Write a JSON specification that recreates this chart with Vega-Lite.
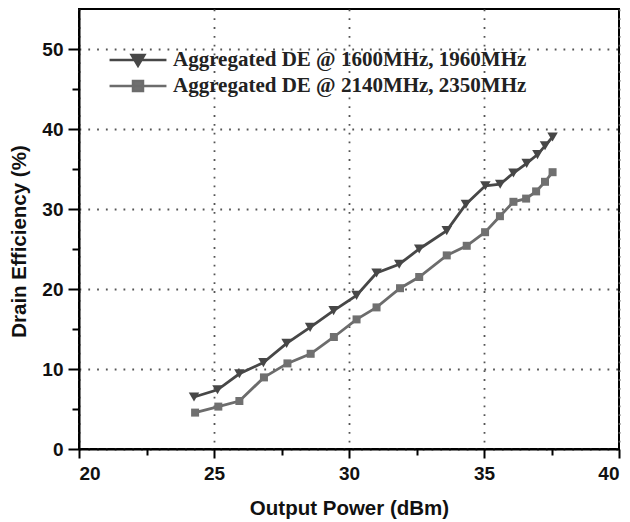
{
  "$schema": "https://vega.github.io/schema/vega-lite/v6.json",
  "width": 540,
  "height": 440,
  "autosize": "none",
  "padding": {"left": 79, "top": 9, "right": 11, "bottom": 73},
  "background": "white",
  "config": {
    "view": {"stroke": "black", "strokeWidth": 2},
    "axis": {
      "domainColor": "black", "domainWidth": 2,
      "tickColor": "black", "tickWidth": 2,
      "labelFont": "Liberation Sans", "labelFontWeight": "bold", "labelFontSize": 19, "labelColor": "#111",
      "titleFont": "Liberation Sans", "titleFontWeight": "bold", "titleFontSize": 20.5, "titleColor": "#111",
      "gridColor": "#555", "gridWidth": 1.8, "gridDash": [1.8, 7], "gridOpacity": 1
    },
    "legend": {
      "title": null, "orient": "none", "legendX": 47, "legendY": 39,
      "labelFont": "Liberation Serif", "labelFontWeight": "bold", "labelFontSize": 21, "labelColor": "#222", "labelLimit": 0,
      "labelOffset": 23, "rowPadding": 3, "padding": 0, "symbolSize": 441, "symbolStrokeWidth": 2.6
    }
  },
  "data": {"values": [
    {"series": "Aggregated DE @ 1600MHz, 1960MHz", "x": 24.26, "y": 6.5},
    {"series": "Aggregated DE @ 1600MHz, 1960MHz", "x": 25.13, "y": 7.4},
    {"series": "Aggregated DE @ 1600MHz, 1960MHz", "x": 25.94, "y": 9.4},
    {"series": "Aggregated DE @ 1600MHz, 1960MHz", "x": 26.83, "y": 10.8},
    {"series": "Aggregated DE @ 1600MHz, 1960MHz", "x": 27.69, "y": 13.2},
    {"series": "Aggregated DE @ 1600MHz, 1960MHz", "x": 28.56, "y": 15.2},
    {"series": "Aggregated DE @ 1600MHz, 1960MHz", "x": 29.43, "y": 17.3},
    {"series": "Aggregated DE @ 1600MHz, 1960MHz", "x": 30.28, "y": 19.2},
    {"series": "Aggregated DE @ 1600MHz, 1960MHz", "x": 31.02, "y": 22.0},
    {"series": "Aggregated DE @ 1600MHz, 1960MHz", "x": 31.86, "y": 23.1},
    {"series": "Aggregated DE @ 1600MHz, 1960MHz", "x": 32.6, "y": 25.0},
    {"series": "Aggregated DE @ 1600MHz, 1960MHz", "x": 33.62, "y": 27.3},
    {"series": "Aggregated DE @ 1600MHz, 1960MHz", "x": 34.33, "y": 30.6},
    {"series": "Aggregated DE @ 1600MHz, 1960MHz", "x": 35.05, "y": 32.9},
    {"series": "Aggregated DE @ 1600MHz, 1960MHz", "x": 35.6, "y": 33.1},
    {"series": "Aggregated DE @ 1600MHz, 1960MHz", "x": 36.09, "y": 34.5},
    {"series": "Aggregated DE @ 1600MHz, 1960MHz", "x": 36.58, "y": 35.7},
    {"series": "Aggregated DE @ 1600MHz, 1960MHz", "x": 36.98, "y": 36.8},
    {"series": "Aggregated DE @ 1600MHz, 1960MHz", "x": 37.26, "y": 37.9},
    {"series": "Aggregated DE @ 1600MHz, 1960MHz", "x": 37.54, "y": 39.0},
    {"series": "Aggregated DE @ 2140MHz, 2350MHz", "x": 24.3, "y": 4.55},
    {"series": "Aggregated DE @ 2140MHz, 2350MHz", "x": 25.16, "y": 5.3},
    {"series": "Aggregated DE @ 2140MHz, 2350MHz", "x": 25.94, "y": 6.0},
    {"series": "Aggregated DE @ 2140MHz, 2350MHz", "x": 26.85, "y": 8.95},
    {"series": "Aggregated DE @ 2140MHz, 2350MHz", "x": 27.72, "y": 10.7},
    {"series": "Aggregated DE @ 2140MHz, 2350MHz", "x": 28.58, "y": 11.9},
    {"series": "Aggregated DE @ 2140MHz, 2350MHz", "x": 29.44, "y": 14.0},
    {"series": "Aggregated DE @ 2140MHz, 2350MHz", "x": 30.28, "y": 16.2},
    {"series": "Aggregated DE @ 2140MHz, 2350MHz", "x": 31.02, "y": 17.7},
    {"series": "Aggregated DE @ 2140MHz, 2350MHz", "x": 31.89, "y": 20.1},
    {"series": "Aggregated DE @ 2140MHz, 2350MHz", "x": 32.6, "y": 21.5},
    {"series": "Aggregated DE @ 2140MHz, 2350MHz", "x": 33.62, "y": 24.2},
    {"series": "Aggregated DE @ 2140MHz, 2350MHz", "x": 34.36, "y": 25.4},
    {"series": "Aggregated DE @ 2140MHz, 2350MHz", "x": 35.04, "y": 27.1},
    {"series": "Aggregated DE @ 2140MHz, 2350MHz", "x": 35.59, "y": 29.1},
    {"series": "Aggregated DE @ 2140MHz, 2350MHz", "x": 36.09, "y": 30.9},
    {"series": "Aggregated DE @ 2140MHz, 2350MHz", "x": 36.56, "y": 31.3},
    {"series": "Aggregated DE @ 2140MHz, 2350MHz", "x": 36.93, "y": 32.2},
    {"series": "Aggregated DE @ 2140MHz, 2350MHz", "x": 37.26, "y": 33.4},
    {"series": "Aggregated DE @ 2140MHz, 2350MHz", "x": 37.54, "y": 34.6}
  ]},
  "layer": [
    {
      "mark": {"type": "line", "strokeWidth": 2.8},
      "encoding": {
        "x": {"field": "x", "type": "quantitative", "scale": {"domain": [20, 40], "nice": false, "zero": false},
          "axis": {"values": [20, 25, 30, 35, 40], "tickSize": 9, "labelPadding": 6, "title": "Output Power (dBm)", "titlePadding": 15, "grid": true}},
        "y": {"field": "y", "type": "quantitative", "scale": {"domain": [0, 55], "nice": false},
          "axis": {"values": [0, 10, 20, 30, 40, 50], "tickSize": 11, "labelPadding": 5, "title": "Drain Efficiency (%)", "titlePadding": 12, "titleY": 232, "grid": true}},
        "color": {"field": "series", "type": "nominal",
          "scale": {"domain": ["Aggregated DE @ 1600MHz, 1960MHz", "Aggregated DE @ 2140MHz, 2350MHz"], "range": ["#474747", "#6c6c6c"]},
          "legend": {
            "encode": {"symbols": {"update": {
              "shape": {"signal": "datum.value === 'Aggregated DE @ 1600MHz, 1960MHz' ? 'M-2.71,0H2.71M-0.6,-0.46H0.6L0,0.54Z' : 'M-2.71,0H2.71M-0.47,-0.47H0.47V0.47H-0.47Z'"},
              "stroke": {"signal": "datum.value === 'Aggregated DE @ 1600MHz, 1960MHz' ? '#474747' : '#6c6c6c'"},
              "fill": {"signal": "datum.value === 'Aggregated DE @ 1600MHz, 1960MHz' ? '#474747' : '#707070'"},
              "size": {"value": 441},
              "strokeWidth": {"value": 2.6},
              "opacity": {"value": 1}
            }}}
          }}
      }
    },
    {
      "transform": [{"filter": "datum.series === 'Aggregated DE @ 1600MHz, 1960MHz'"}],
      "mark": {"type": "point", "filled": true, "opacity": 1, "shape": "triangle-down", "size": 110, "color": "#474747"},
      "encoding": {
        "x": {"field": "x", "type": "quantitative", "axis": {"values": [22.5, 27.5, 32.5, 37.5], "tickSize": 6, "labels": false, "domain": false, "grid": false, "title": null, "orient": "bottom"}},
        "y": {"field": "y", "type": "quantitative", "axis": {"values": [5, 15, 25, 35, 45], "tickSize": 7, "labels": false, "domain": false, "grid": false, "title": null, "orient": "left"}}
      }
    },
    {
      "transform": [{"filter": "datum.series === 'Aggregated DE @ 2140MHz, 2350MHz'"}],
      "mark": {"type": "point", "filled": true, "opacity": 1, "shape": "square", "size": 64, "color": "#707070"},
      "encoding": {
        "x": {"field": "x", "type": "quantitative", "axis": null},
        "y": {"field": "y", "type": "quantitative", "axis": null}
      }
    }
  ],
  "resolve": {"axis": {"x": "independent", "y": "independent"}}
}
